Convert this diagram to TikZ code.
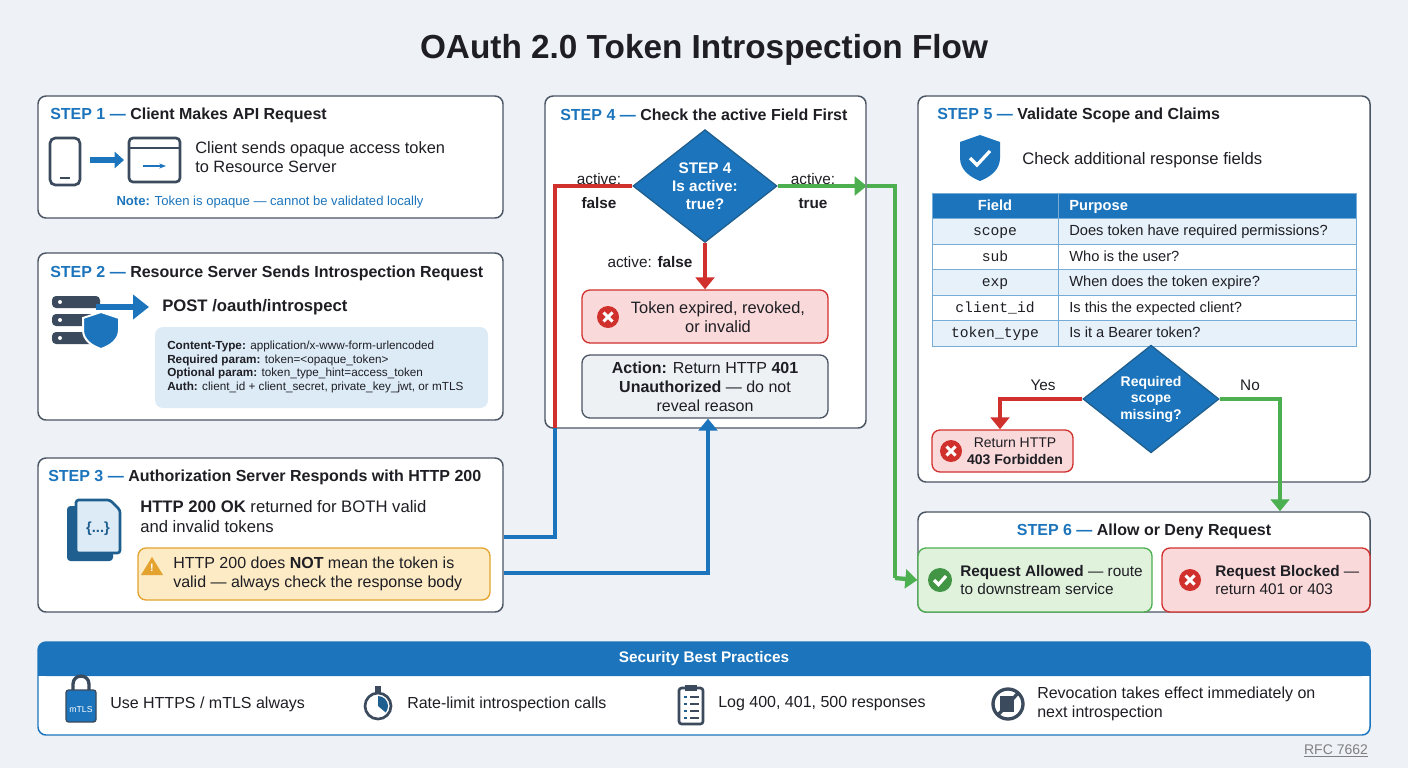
\documentclass[tikz,border=0pt]{standalone}
\usepackage{fontspec}
\setmainfont{Liberation Sans}
\setmonofont{Liberation Mono}
\usetikzlibrary{arrows.meta,positioning,shapes.geometric,fit,calc}
\definecolor{bgc}{HTML}{EEF1F5}
\definecolor{ink}{HTML}{1E1E24}
\definecolor{frame}{HTML}{4A5564}
\definecolor{oblue}{HTML}{1C75BC}
\definecolor{dblue}{HTML}{1F5F8F}
\definecolor{ored}{HTML}{D0312D}
\definecolor{ogreen}{HTML}{4CAF50}
\definecolor{redfill}{HTML}{F9D9D9}
\definecolor{greenfill}{HTML}{E0F2DC}
\definecolor{orfill}{HTML}{FCEBC4}
\definecolor{orline}{HTML}{E3A32E}
\definecolor{lbfill}{HTML}{DDEBF7}
\definecolor{greyfill}{HTML}{EEF1F4}
\definecolor{icon}{HTML}{3B4A5C}
\newcommand{\fz}[1]{\fontsize{#1}{1.18\dimexpr#1\relax}\selectfont}
\newcommand{\stephead}[2]{\textbf{\textcolor{oblue}{STEP #1 —} \textcolor{ink}{#2}}}
\tikzset{
  card/.style={draw=frame,line width=1.1pt,rounded corners=6pt,fill=white,inner sep=0pt},
  tag/.style={rounded corners=6pt,line width=1pt,inner sep=0pt},
  txt/.style={inner sep=0pt,text=ink,align=left},
  flow/.style={draw=oblue,line width=3.2pt,-{Triangle[length=9pt,width=14pt]}},
  bline/.style={draw=oblue,line width=3.2pt},
  rline/.style={draw=ored,line width=3.2pt},
  gline/.style={draw=ogreen,line width=3.2pt},
  cell/.style={draw=oblue!60,line width=0.6pt,inner sep=0pt,minimum height=19.1pt},
  xbad/.pic={\fill[ored] (0,0) circle (11);
    \draw[white,line width=2.2pt] (-4.5,-4.5) -- (4.5,4.5) (-4.5,4.5) -- (4.5,-4.5);},
  okmark/.pic={\fill[ogreen!85!black] (0,0) circle (12);
    \draw[white,line width=2.4pt] (-6,0) -- (-1.5,4.5) -- (6,-4);},
}
\begin{document}
\begin{tikzpicture}[x=0.75pt,y=-0.75pt]
\fill[bgc] (0,0) rectangle (1408,768);
\useasboundingbox (0,0) rectangle (1408,768);
\node[txt,font=\fz{25pt}\bfseries] (title) at (704,50) {OAuth 2.0 Token Introspection Flow};

% step cards
\node[card,fit={(38,96) (503,218)}] (s1) {};
\node[card,fit={(38,253) (503,420)}] (s2) {};
\node[card,fit={(38,458) (503,612)}] (s3) {};
\node[card,fit={(545,96) (866,428)}] (s4) {};
\node[card,fit={(918,96) (1370,482)}] (s5) {};
\node[card,fit={(918,512) (1370,612)}] (s6) {};

% step 1
\node[txt,anchor=west,font=\fz{12pt}] (h1) at (50,115) {\stephead{1}{Client Makes API Request}};
\draw[icon,line width=2pt,rounded corners=4pt,fill=white] (50,138) rectangle (80,185);
\draw[icon,line width=1.5pt] (60,178) -- (70,178);
\draw[oblue,line width=4pt,-{Triangle[length=7pt,width=12pt]}] (90,160) -- (124,160);
\draw[icon,line width=2pt,rounded corners=3pt,fill=white] (129,138) rectangle (180,182);
\draw[icon,line width=2pt] (129,148) -- (180,148);
\draw[oblue,line width=2pt,-{Stealth[length=5pt]}] (143,166) -- (166,166);
\node[txt,anchor=north west,font=\fz{12.3pt}] (t1) at (195,141) {Client sends opaque access token\\to Resource Server};
\node[txt,font=\fz{9.8pt},text=oblue] (n1) at (270,202) {\textbf{Note:} Token is opaque — cannot be validated locally};

% step 2
\node[txt,anchor=west,font=\fz{12pt}] (h2) at (50,273) {\stephead{2}{Resource Server Sends Introspection Request}};
\foreach \yy in {296,314,332}{
  \fill[icon,rounded corners=3pt] (52,\yy) rectangle (100,\yy+12);
  \fill[white] (60,\yy+6) circle (2);}
\draw[oblue,line width=5pt,-{Triangle[length=12pt,width=18pt]}] (96,307) -- (149,307);
\draw[white,line width=1.5pt,fill=oblue] (101,312) -- (119,318) -- (119,330) .. controls (119,340) and (110,346) .. (101,349) .. controls (92,346) and (83,340) .. (83,330) -- (83,318) -- cycle;
\node[txt,anchor=west,font=\fz{12.5pt}\bfseries] (post) at (162,307) {POST /oauth/introspect};
\node[tag,fill=lbfill,fit={(155,327) (488,408)}] (req) {};
\node[txt,anchor=west,font=\fz{8.8pt}] (reqt) at (167,367) {\textbf{Content-Type:} application/x-www-form-urlencoded\\
\textbf{Required param:} token=<opaque\_token>\\
\textbf{Optional param:} token\_type\_hint=access\_token\\
\textbf{Auth:} client\_id + client\_secret, private\_key\_jwt, or mTLS};

% step 3
\node[txt,anchor=west,font=\fz{12pt}] (h3) at (48,477) {\stephead{3}{Authorization Server Responds with HTTP 200}};
\draw[dblue,line width=1.5pt,fill=dblue,rounded corners=2pt] (68,507) rectangle (112,560);
\draw[dblue,line width=2pt,fill=lbfill,rounded corners=2pt] (76,500) -- (110,500) -- (120,510) -- (120,553) -- (76,553) -- cycle;
\node[txt,font=\fz{11pt}\bfseries,text=dblue] (brace) at (98,529) {\{...\}};
\node[txt,anchor=north west,font=\fz{12.5pt}] (t3) at (140,500) {\textbf{HTTP 200 OK} returned for BOTH valid\\and invalid tokens};
\node[tag,draw=orline,fill=orfill,fit={(138,548) (490,600)}] (warn) {};
\fill[orline] (152,557) -- (163,575) -- (141,575) -- cycle;
\node[txt,font=\fz{8pt}\bfseries,text=white] (bang) at (152,568) {!};
\node[txt,anchor=west,font=\fz{12pt}] (wt) at (173,574) {HTTP 200 does \textbf{NOT} mean the token is\\valid — always check the response body};

% step 4
\node[txt,anchor=west,font=\fz{12pt}] (h4) at (560,115) {\stephead{4}{Check the active Field First}};
\node[diamond,fill=oblue,draw=dblue,line width=1pt,minimum width=108pt,minimum height=84pt,inner sep=0pt,align=center,
  font=\fz{11.5pt}\bfseries,text=white] (d4) at (705,186) {STEP 4\\Is active:\\true?};
\node[txt,align=center,font=\fz{11.5pt}] (af) at (599,191) {active:\\[4pt]\textbf{false}};
\node[txt,align=center,font=\fz{11.5pt}] (at) at (813,191) {active:\\[4pt]\textbf{true}};
\node[tag,draw=ored,fill=redfill,fit={(582,290) (828,343)}] (bad) {};
\pic at (608,317) {xbad};
\node[txt,align=center,font=\fz{12.3pt}] (badt) at (718,317) {Token expired, revoked,\\or invalid};
\node[tag,draw=frame,fill=greyfill,fit={(582,355) (828,418)}] (act) {};
\node[txt,align=center,font=\fz{12pt}] (actt) at (705,387) {\textbf{Action:} Return HTTP \textbf{401}\\\textbf{Unauthorized} — do not\\reveal reason};
\draw[rline,-{Triangle[length=9pt,width=14pt]}] (d4.south) -- (bad.north);
\node[txt,font=\fz{11.5pt}] (afl) at (650,262) {active: \textbf{false}};

% step 3 -> step 4 connectors
\coordinate (j1) at (555,428);
\coordinate (j2) at (555,186);
\coordinate (j3) at (555,537);
\coordinate (k1) at (708,573);
\draw[bline] (s3.east |- j3) -- (j3) -- (j1);
\draw[rline] (j1) -- (j2) -- (d4.west);
\draw[flow] (s3.east |- k1) -- (k1) -- (k1 |- act.south);

% green path to step 6
\coordinate (g1) at (895,186);
\coordinate (g2) at (895,578);
\draw[gline,-{Triangle[length=9pt,width=14pt]}] (d4.east) -- (s4.east |- d4.east);
\draw[gline] (s4.east |- d4.east) -- (g1) -- (g2);

% step 5
\node[txt,anchor=west,font=\fz{12pt}] (h5) at (937,115) {\stephead{5}{Validate Scope and Claims}};
\fill[oblue] (980,135) -- (1000,142) -- (1000,158) .. controls (1000,170) and (990,177) .. (980,181) .. controls (970,177) and (960,170) .. (960,158) -- (960,142) -- cycle;
\draw[white,line width=2.4pt] (970,158) -- (977,165) -- (990,151);
\node[txt,anchor=west,font=\fz{12.5pt}] (t5) at (1022,160) {Check additional response fields};
\node[cell,fill=oblue,minimum width=94.5pt] (fh) at (995,206) {};
\node[cell,fill=oblue,minimum width=223.5pt] (ph) at (1207,206) {};
\node[txt,anchor=base,text=white,font=\fz{11pt}\bfseries] (fht) at (995,210) {Field};
\node[txt,anchor=base west,text=white,font=\fz{11pt}\bfseries] (pht) at (1069,210) {Purpose};
\foreach \f/\p [count=\i] in {scope/Does token have required permissions?,sub/Who is the user?,exp/When does the token expire?,
  client\_id/Is this the expected client?,token\_type/Is it a Bearer token?}{
  \pgfmathsetmacro{\ry}{206+25.5*\i}
  \node[cell,fill=\ifodd\i lbfill!70\else white\fi,minimum width=94.5pt] (f\i) at (995,\ry) {};
  \node[cell,fill=\ifodd\i lbfill!70\else white\fi,minimum width=223.5pt] (p\i) at (1207,\ry) {};
  \node[txt,anchor=base,font=\fz{11pt}\ttfamily] (ft\i) at (995,\ry+4) {\f};
  \node[txt,anchor=base west,font=\fz{11pt}] (pt\i) at (1069,\ry+4) {\p};
}
\node[diamond,fill=oblue,draw=dblue,line width=1pt,minimum width=102pt,minimum height=60pt,inner sep=0pt,align=center,
  font=\fz{10.5pt}\bfseries,text=white] (d5) at (1151,399) {Required\\scope\\missing?};
\node[txt,font=\fz{11.5pt}] (yes) at (1043,385) {Yes};
\node[txt,font=\fz{11.5pt}] (no) at (1250,385) {No};
\node[tag,draw=ored,fill=redfill,fit={(932,430) (1073,472)}] (forb) {};
\pic at (951,451) {xbad};
\node[txt,align=center,font=\fz{10.5pt}] (forbt) at (1015,451) {Return HTTP\\\textbf{403 Forbidden}};
\coordinate (y1) at (1000,399);
\coordinate (n1c) at (1280,399);
\draw[rline,-{Triangle[length=9pt,width=14pt]}] (d5.west) -- (y1) -- (y1 |- forb.north);

% step 6
\node[txt,font=\fz{12pt}] (h6) at (1144,531) {\stephead{6}{Allow or Deny Request}};
\node[tag,draw=ogreen,fill=greenfill,fit={(918,548) (1152,612)}] (allow) {};
\pic at (940,580) {okmark};
\node[txt,anchor=west,font=\fz{11.5pt}] (allowt) at (960,580) {\textbf{Request Allowed} — route\\to downstream service};
\node[tag,draw=ored,fill=redfill,fit={(1162,548) (1370,612)}] (deny) {};
\pic at (1190,580) {xbad};
\node[txt,anchor=west,font=\fz{11.5pt}] (denyt) at (1215,580) {\textbf{Request Blocked} —\\return 401 or 403};
\draw[gline,-{Triangle[length=9pt,width=14pt]}] (d5.east) -- (n1c) -- (n1c |- s6.north);
\draw[gline,-{Triangle[length=9pt,width=14pt]}] (g2) -- (allow.west);

% best practices
\node[card,draw=oblue,fit={(38,642) (1370,735)}] (bp) {};
\fill[oblue,rounded corners=6pt] (38,642) rectangle (1370,676);
\fill[oblue] (38,665) rectangle (1370,676);
\node[txt,font=\fz{11.5pt}\bfseries,text=white] (bph) at (704,659) {Security Best Practices};
% lock
\draw[icon,line width=2.5pt] (73,692) -- (73,684) arc (180:360:8) -- (89,692);
\fill[oblue,draw=icon,line width=1pt,rounded corners=2pt] (66,690) rectangle (96,722);
\node[txt,font=\fz{6.5pt},text=white] (mtls) at (81,710) {mTLS};
\node[txt,anchor=west,font=\fz{12pt}] (b1) at (110,704) {Use HTTPS / mTLS always};
% stopwatch
\fill[icon] (375,686) rectangle (381,692);
\draw[icon,line width=2pt,fill=white] (378,706) circle (13);
\fill[dblue] (378,706) -- (378,696) arc (270:400:10) -- cycle;
\node[txt,anchor=west,font=\fz{12pt}] (b2) at (407,704) {Rate-limit introspection calls};
% clipboard
\draw[icon,line width=2pt,fill=white,rounded corners=2pt] (679,688) rectangle (703,724);
\fill[icon] (685,685) rectangle (697,691);
\foreach \yy in {697,704,711,718}{\draw[dblue,line width=1pt] (684,\yy) -- (687,\yy); \draw[icon,line width=1pt] (690,\yy) -- (699,\yy);}
\node[txt,anchor=west,font=\fz{12pt}] (b3) at (718,704) {Log 400, 401, 500 responses};
% revoke
\draw[icon,line width=2.5pt] (1008,704) circle (15);
\fill[icon] (1000,696) rectangle (1014,712);
\draw[icon,line width=2.5pt] (997,716) -- (1019,692);
\node[txt,anchor=west,font=\fz{12pt}] (b4) at (1037,704) {Revocation takes effect immediately on\\next introspection};

\node[txt,font=\fz{10.5pt},text=gray] (rfc) at (1336,751) {\underline{RFC 7662}};
\end{tikzpicture}
\end{document}
